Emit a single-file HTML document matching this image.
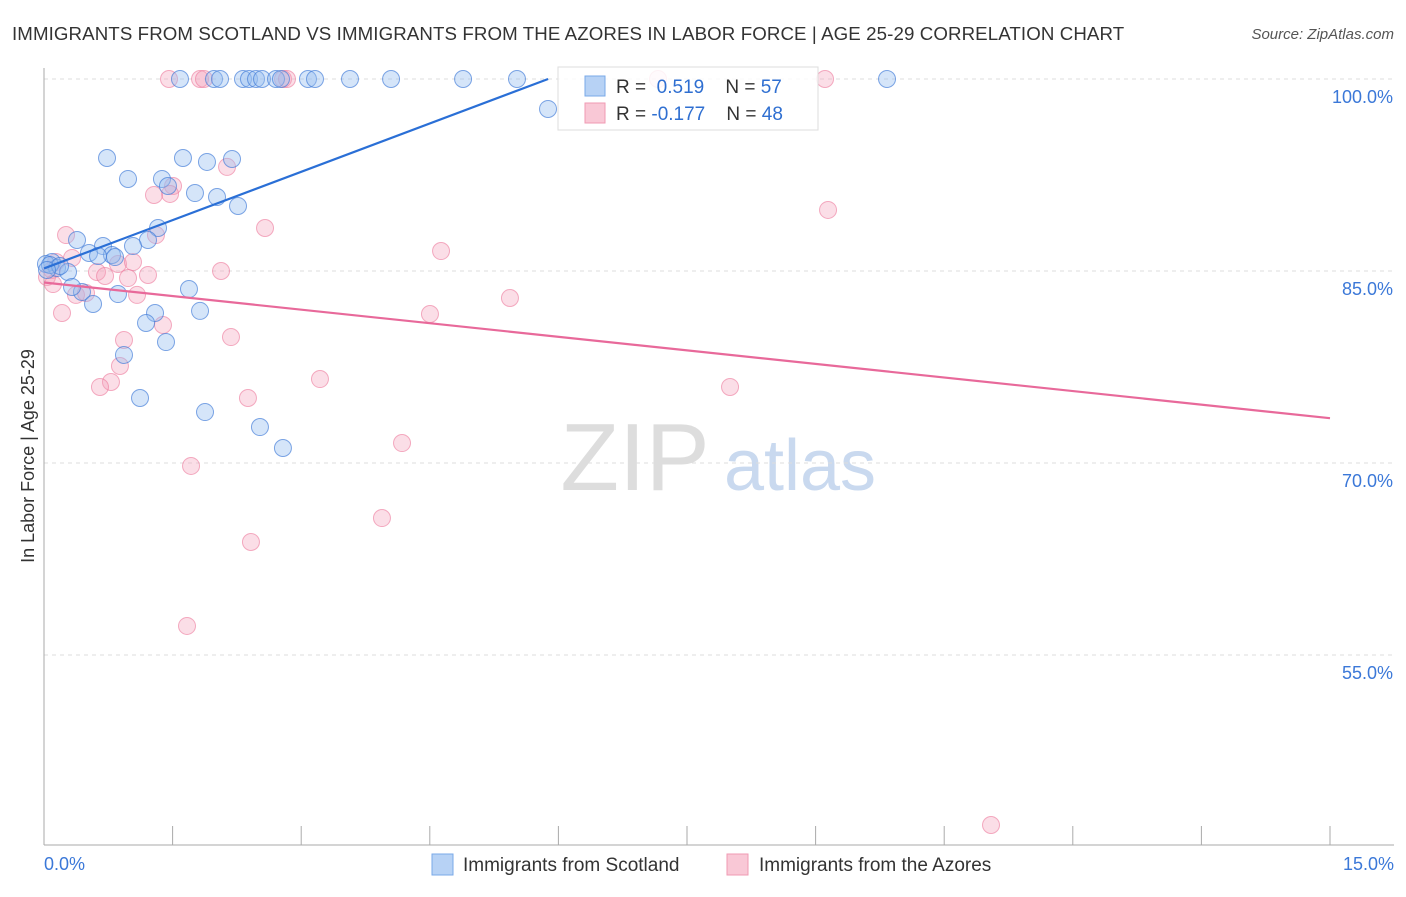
<!DOCTYPE html>
<html><head><meta charset="utf-8"><style>
body{margin:0;background:#fff;font-family:"Liberation Sans",sans-serif;}
svg text{font-family:"Liberation Sans",sans-serif;}
</style></head><body>
<svg id="chart" width="1406" height="892">
<text x="12" y="40" font-size="18.7" fill="#333" letter-spacing="0.1">IMMIGRANTS FROM SCOTLAND VS IMMIGRANTS FROM THE AZORES IN LABOR FORCE | AGE 25-29 CORRELATION CHART</text>
<text x="1394" y="39" font-size="15" fill="#555" font-style="italic" text-anchor="end">Source: ZipAtlas.com</text>
<text transform="translate(34,456) rotate(-90)" font-size="18" fill="#333" text-anchor="middle">In Labor Force | Age 25-29</text>
<g><text x="635" y="490" font-size="96" fill="#ddd" font-family="Liberation Serif" text-anchor="middle">ZIP</text><text x="800" y="490" font-size="72" fill="#c9d9ef" text-anchor="middle">atlas</text></g>
<g id="grid"></g><g id="axes"></g><g id="pts"></g><g id="lines"></g>
<g>
<rect x="558" y="67" width="260" height="63" fill="rgba(255,255,255,0.85)" stroke="#ddd"/>
<rect x="585" y="76" width="20" height="20" fill="#b7d2f5" stroke="#7aa9e8"/>
<rect x="585" y="103" width="20" height="20" fill="#f9c8d6" stroke="#f09ab3"/>
<text x="616" y="93" font-size="19" fill="#333">R = <tspan fill="#2f6fd1">&#160;0.519</tspan>&#160;&#160;&#160;&#160;N = <tspan fill="#2f6fd1">57</tspan></text>
<text x="616" y="120" font-size="19" fill="#333">R = <tspan fill="#2f6fd1">-0.177</tspan>&#160;&#160;&#160;&#160;N = <tspan fill="#2f6fd1">48</tspan></text>
</g>
<g>
<rect x="432" y="854" width="21" height="21" fill="#b7d2f5" stroke="#7aa9e8"/>
<text x="463" y="871" font-size="19" fill="#333">Immigrants from Scotland</text>
<rect x="727" y="854" width="21" height="21" fill="#f9c8d6" stroke="#f09ab3"/>
<text x="759" y="871" font-size="19" fill="#333">Immigrants from the Azores</text>
</g>
</svg>
<script>
const xTickLabels=["0.0%","15.0%"];
const yTicks=[100,85,70,55];
const yTickLabels=["100.0%","85.0%","70.0%","55.0%"];
const blueX=[1.586,1.983,2.053,2.321,2.391,2.473,2.543,2.706,2.764,3.079,3.161,3.569,4.048,4.888,5.517,9.833,5.879,0.735,1.621,1.901,2.193,0.980,1.376,1.446,1.761,2.018,2.263,1.330,1.213,0.385,0.688,1.038,0.525,0.793,0.630,0.828,0.093,0.023,0.152,0.280,0.443,0.327,0.863,1.691,0.572,1.820,1.295,1.190,1.423,0.933,1.120,1.878,2.519,2.787,0.07,0.187,0.035];
const blueY=[100,100,100,100,100,100,100,100,100,100,100,100,100,100,100,100,97.66,93.83,93.83,93.52,93.75,92.19,92.19,91.64,91.09,90.78,90.08,88.36,87.42,87.42,86.95,86.95,86.41,86.25,86.17,86.09,85.70,85.55,85.23,84.92,83.36,83.75,83.20,83.59,82.42,81.88,81.72,80.94,79.45,78.44,75.08,73.98,72.81,71.17,85.47,85.39,85.08];
const pinkX=[1.458,1.820,1.866,2.788,2.834,7.162,9.110,9.145,1.505,1.470,1.283,2.135,2.578,0.257,1.306,4.631,0.327,0.863,1.038,0.140,0.093,0.618,0.712,0.980,1.213,2.065,0.035,0.105,0.373,0.490,1.085,5.435,0.210,4.502,1.388,2.181,0.933,0.886,0.781,0.653,3.219,2.379,8.002,4.176,1.715,3.942,2.414,1.668,11.046];
const pinkY=[100,100,100,100,100,100,100,89.77,91.64,91.02,90.94,93.13,88.36,87.81,87.81,86.56,86.02,85.55,85.70,85.70,85.08,84.92,84.61,84.45,84.69,85.0,84.53,83.98,83.13,83.28,83.13,82.89,81.72,81.64,80.78,79.84,79.61,77.58,76.33,75.94,76.56,75.08,75.94,71.56,69.77,65.70,63.83,57.27,41.72];
const blueLine=[[0,85.2],[5.88,100]];
const pinkLine=[[0,84.1],[15,73.5]];
const NS="http://www.w3.org/2000/svg";
const xs=v=>44+v/15*1286, ys=v=>79+(100-v)*12.8;
function mk(t,a,p){const e=document.createElementNS(NS,t);for(const k in a)e.setAttribute(k,a[k]);p.appendChild(e);return e;}
const grid=document.getElementById('grid'),axes=document.getElementById('axes'),pts=document.getElementById('pts'),lines=document.getElementById('lines');
yTicks.forEach((v,i)=>{
 const l=mk('line',{x1:44,x2:1394,y1:ys(v),y2:ys(v),stroke:'#ddd','stroke-dasharray':'4,4'},grid);
 
 
 const t=mk('text',{x:1393,y:ys(v)+24,'font-size':18,fill:'#3b78d8','text-anchor':'end'},axes);t.textContent=yTickLabels[i];
 
 
});
const ax=mk('line',{x1:44,x2:44,y1:68,y2:845,stroke:'#aaa'},axes);


const bx=mk('line',{x1:44,x2:1394,y1:845,y2:845,stroke:'#aaa'},axes);


for(let i=0;i<=10;i++){const x=xs(i*1.5);const t=mk('line',{x1:x,x2:x,y1:826,y2:845,stroke:'#aaa'},axes);
 
 }
[[0,'start',44],[1,'end',1394]].forEach(([i,a,x])=>{const t=mk('text',{x:x,y:870,'font-size':18,fill:'#3b78d8','text-anchor':a},axes);t.textContent=xTickLabels[i];
 
 });
pinkX.forEach((v,i)=>{const c=mk('circle',{cx:xs(v),cy:ys(pinkY[i]),r:8.5,fill:'rgba(244,160,186,0.35)',stroke:'rgba(236,120,155,0.6)'},pts);
 
 });
blueX.forEach((v,i)=>{const c=mk('circle',{cx:xs(v),cy:ys(blueY[i]),r:8.5,fill:'rgba(150,190,240,0.4)',stroke:'rgba(60,120,215,0.65)'},pts);
 
 });
const bl=mk('line',{x1:xs(blueLine[0][0]),y1:ys(blueLine[0][1]),x2:xs(blueLine[1][0]),y2:ys(blueLine[1][1]),stroke:'#2a6fd6','stroke-width':2.2},lines);


const pl=mk('line',{x1:xs(pinkLine[0][0]),y1:ys(pinkLine[0][1]),x2:xs(pinkLine[1][0]),y2:ys(pinkLine[1][1]),stroke:'#e8699a','stroke-width':2.2},lines);


</script>
</body></html>
